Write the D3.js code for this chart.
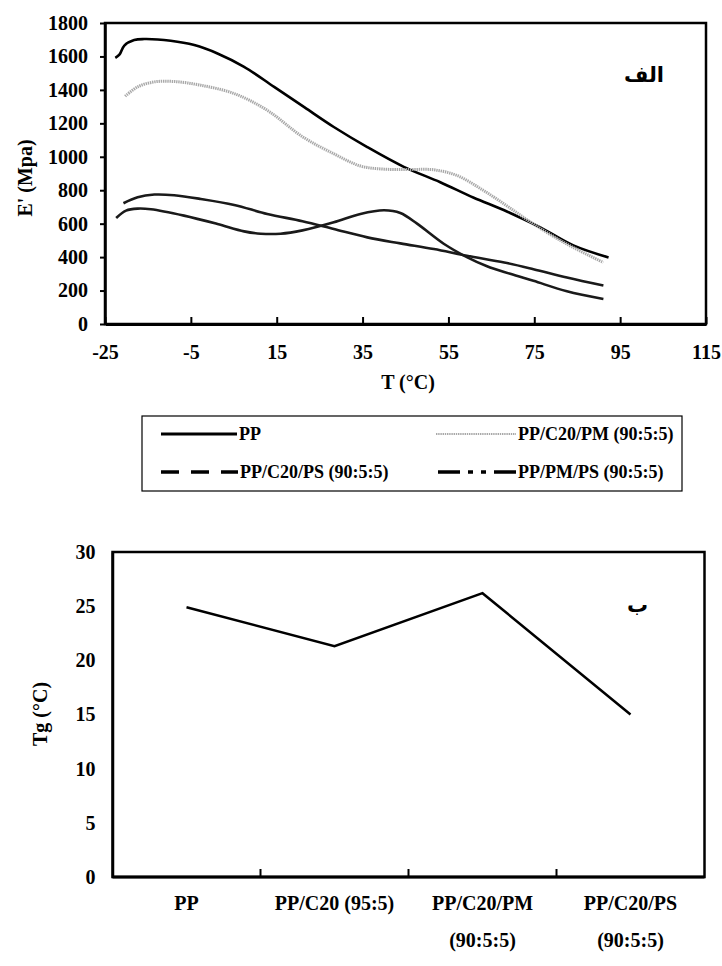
<!DOCTYPE html>
<html>
<head>
<meta charset="utf-8">
<script src="https://cdn.jsdelivr.net/npm/d3@7"></script>
<style>
  body { margin: 0; background: #fff; }
  svg text { font-family: "Liberation Serif", "Times New Roman", serif; font-weight: bold; fill: #000; }
  .ar { font-family: "DejaVu Sans", sans-serif !important; }
</style>
</head>
<body>
<svg id="chart" width="722" height="966"></svg>
<script>
// ---- top chart: storage modulus E' vs T ----
const xTicksTop = [-25, -5, 15, 35, 55, 75, 95, 115]
const yTicksTop = [0, 200, 400, 600, 800, 1000, 1200, 1400, 1600, 1800]

const ppCurve = [[-22.6,1592],[-21.6,1612],[-20.5,1665],[-18.2,1698],[-15.9,1704],[-9.7,1694],[-4.2,1668],[1.2,1618],[7.4,1538],[14.4,1418],[21.5,1295],[28.3,1178],[36.1,1058],[44.6,940],[53.1,848],[60.9,755],[68,680],[76.4,578],[84.1,470],[92.3,398]]
const pmCurve = [[-20.3,1362],[-17.4,1418],[-13.5,1448],[-8.9,1450],[-2.7,1428],[5.1,1378],[12.8,1278],[21,1120],[28.3,1018],[34.5,945],[40,926],[46,924],[51.6,922],[57,888],[63.2,798],[69,700],[74.8,598],[82.6,478],[91.1,368]]
const c20psCurve = [[-20.7,722],[-17.4,758],[-13.5,774],[-8.9,770],[-2.7,748],[5.1,712],[12.8,658],[21,615],[28.3,568],[36.1,518],[43.8,482],[51.6,448],[59.3,408],[68,368],[74.8,328],[82.6,278],[91.1,230]]
const pmpsCurve = [[-22.4,634],[-20.1,678],[-17.4,690],[-14.3,686],[-6.6,648],[1.2,598],[7.4,554],[11.3,540],[15.9,540],[21,560],[28.3,608],[34.5,658],[40,680],[43.8,664],[47.7,600],[53.9,480],[59.3,400],[64,345],[69.4,300],[74.8,258],[82.6,196],[91.1,150]]

const seriesNames = ["PP", "PP/C20/PM (90:5:5)", "PP/C20/PS (90:5:5)", "PP/PM/PS (90:5:5)"]

// ---- bottom chart: Tg per sample ----
const tgCategories = [["PP"], ["PP/C20 (95:5)"], ["PP/C20/PM", "(90:5:5)"], ["PP/C20/PS", "(90:5:5)"]]
const tgValues = [24.9, 21.3, 26.2, 15.0]
const yTicksBottom = [0, 5, 10, 15, 20, 25, 30]

const svg = d3.select("#chart")
const plain = d => String(d)

// ================= TOP =================
const gTop = svg.append("g")
const x = d3.scaleLinear().domain([-25, 115]).range([105, 706])
const y = d3.scaleLinear().domain([0, 1800]).range([324, 23])

gTop.append("rect")
    .attr("x", 105).attr("y", 23).attr("width", 601).attr("height", 301)
    .attr("fill", "none").attr("stroke", "#000").attr("stroke-width", 2.5)

let xAxis = d3.axisBottom(x).tickValues(xTicksTop).tickFormat(plain).tickSizeInner(-7).tickSizeOuter(0).tickPadding(21)
let gx = gTop.append("g").attr("transform", "translate(0,324)").call(xAxis)
gx.select(".domain").attr("stroke-width", 3)
gx.selectAll(".tick line").attr("stroke-width", 2)
gx.selectAll("text").style("font-size", "20px")

let yAxis = d3.axisLeft(y).tickValues(yTicksTop).tickFormat(plain).tickSizeInner(5).tickSizeOuter(0).tickPadding(12)
let gy = gTop.append("g").attr("transform", "translate(105,0)").call(yAxis)
gy.select(".domain").attr("stroke-width", 2.5)
gy.selectAll(".tick line").attr("stroke-width", 2)
gy.selectAll("text").style("font-size", "20px")

gTop.append("text").attr("x", 408).attr("y", 389).attr("text-anchor", "middle")
    .style("font-size", "20px").text("T (°C)")
gTop.append("text").attr("transform", "translate(32,178) rotate(-90)").attr("text-anchor", "middle")
    .style("font-size", "20px").text("E' (Mpa)")
gTop.append("text").attr("class", "ar").attr("x", 664).attr("y", 82).attr("text-anchor", "end")
    .style("font-size", "21px").style("font-weight", "bold").text("الف")

const line = d3.line().x(d => x(d[0])).y(d => y(d[1])).curve(d3.curveCatmullRom)

const styles = [
    { stroke: "#000", width: 2.6, dash: null },
    { stroke: "#a8a8a8", width: 3, dash: "1.4,0.8" },
    { stroke: "#1a1a1a", width: 2.6, dash: null },
    { stroke: "#1a1a1a", width: 2.6, dash: null }
]
const curves = [ppCurve, pmCurve, c20psCurve, pmpsCurve]

gTop.selectAll(".curve").data(curves).join("path")
    .attr("class", "curve")
    .attr("d", line)
    .attr("fill", "none")
    .attr("stroke", (d, i) => styles[i].stroke)
    .attr("stroke-width", (d, i) => styles[i].width)
    .attr("stroke-dasharray", (d, i) => styles[i].dash)

// legend
const leg = svg.append("g")
leg.append("rect").attr("x", 142).attr("y", 416).attr("width", 540).attr("height", 75)
    .attr("fill", "none").attr("stroke", "#000").attr("stroke-width", 1.2)
const legItems = [
    { x1: 161, x2: 237, y: 434, dash: null, stroke: "#000", w: 3 },
    { x1: 436, x2: 516, y: 434, dash: "1.4,0.8", stroke: "#a8a8a8", w: 2 },
    { x1: 161, x2: 238, y: 472, dash: "18,12", stroke: "#000", w: 3.5 },
    { x1: 438, x2: 516, y: 472, dash: "22,8,5,8,5,8", stroke: "#000", w: 3.5 }
]
legItems.forEach((it, i) => {
    leg.append("line").attr("x1", it.x1).attr("x2", it.x2).attr("y1", it.y).attr("y2", it.y)
        .attr("stroke", it.stroke).attr("stroke-width", it.w).attr("stroke-dasharray", it.dash)
    leg.append("text").attr("x", it.x2 + 2).attr("y", it.y + 6)
        .style("font-size", "18px").text(seriesNames[i])
})

// ================= BOTTOM =================
const gBot = svg.append("g")
const xb = d3.scaleBand().domain(d3.range(tgCategories.length)).range([112.5, 704.5])
const yb = d3.scaleLinear().domain([0, 30]).range([877, 552])

gBot.append("rect")
    .attr("x", 112.5).attr("y", 552).attr("width", 592).attr("height", 325)
    .attr("fill", "none").attr("stroke", "#000").attr("stroke-width", 2.5)

let gyb = gBot.append("g").attr("transform", "translate(112.5,0)")
    .call(d3.axisLeft(yb).tickValues(yTicksBottom).tickFormat(plain).tickSize(0).tickPadding(17))
gyb.select(".domain").attr("stroke-width", 2.5)
gyb.selectAll("text").style("font-size", "20px")

// band boundaries as inward ticks
gBot.append("g").selectAll("line").data(d3.range(1, tgCategories.length)).join("line")
    .attr("x1", d => xb(d)).attr("x2", d => xb(d))
    .attr("y1", 877).attr("y2", 869)
    .attr("stroke", "#000").attr("stroke-width", 2)
gBot.append("line").attr("x1", 112.5).attr("x2", 704.5).attr("y1", 877).attr("y2", 877)
    .attr("stroke", "#000").attr("stroke-width", 3)

gBot.append("g").selectAll("text").data(tgCategories).join("text")
    .attr("text-anchor", "middle")
    .style("font-size", "20px")
    .each(function (lines, i) {
        d3.select(this).selectAll("tspan").data(lines).join("tspan")
            .attr("x", xb(i) + xb.bandwidth() / 2)
            .attr("y", (d, j) => 910 + j * 37)
            .text(d => d)
    })

gBot.append("text").attr("transform", "translate(47,714) rotate(-90)").attr("text-anchor", "middle")
    .style("font-size", "20px").text("Tg (°C)")
gBot.append("text").attr("class", "ar").attr("x", 648).attr("y", 612).attr("text-anchor", "end")
    .style("font-size", "21px").style("font-weight", "bold").text("ب")

const tgLine = d3.line().x((d, i) => xb(i) + xb.bandwidth() / 2).y(d => yb(d))
gBot.append("path").datum(tgValues).attr("d", tgLine)
    .attr("fill", "none").attr("stroke", "#000").attr("stroke-width", 2.5)
</script>
</body>
</html>
